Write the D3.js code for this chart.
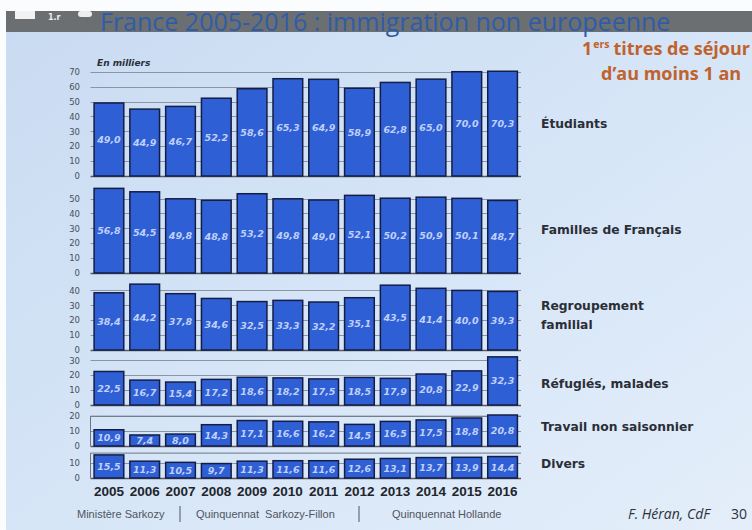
<!DOCTYPE html>
<html><head><meta charset="utf-8">
<script src="https://cdn.jsdelivr.net/npm/d3@7/dist/d3.min.js"></script>
<style>html,body{margin:0;padding:0;overflow:hidden;background:#fff}</style>
</head><body>
<script>
// ---- data ----
const years = ["2005","2006","2007","2008","2009","2010","2011","2012","2013","2014","2015","2016"];
const seriesNames = ["Étudiants","Familles de Français","Regroupement familial","Réfugiés, malades","Travail non saisonnier","Divers"];
const etudiants   = [49.0,44.9,46.7,52.2,58.6,65.3,64.9,58.9,62.8,65.0,70.0,70.3];
const familles    = [56.8,54.5,49.8,48.8,53.2,49.8,49.0,52.1,50.2,50.9,50.1,48.7];
const regroupement= [38.4,44.2,37.8,34.6,32.5,33.3,32.2,35.1,43.5,41.4,40.0,39.3];
const refugies    = [22.5,16.7,15.4,17.2,18.6,18.2,17.5,18.5,17.9,20.8,22.9,32.3];
const travail     = [10.9,7.4,8.0,14.3,17.1,16.6,16.2,14.5,16.5,17.5,18.8,20.8];
const divers      = [15.5,11.3,10.5,9.7,11.3,11.6,11.6,12.6,13.1,13.7,13.9,14.4];
const seriesValues = [etudiants,familles,regroupement,refugies,travail,divers];
const tickMax = [70,50,40,30,20,10];
const periods = ["Ministère Sarkozy","Quinquennat  Sarkozy-Fillon","Quinquennat Hollande"];

// ---- layout ----
const W=752,H=530;
const baselines=[176,273,350,405,446,478];
const pxPerUnit=1.49;
const labelY=[[124],[230],[306,325],[384],[427],[464]];
const framed=[false,false,false,false,true,true];
const frameTop=[0,0,0,0,20,16.7];

const svg=d3.select("body").append("svg").attr("width",W).attr("height",H)
  .style("font-family","'DejaVu Sans',sans-serif");
const defs=svg.append("defs");
const g=defs.append("linearGradient").attr("id","bg").attr("x1","0").attr("y1","0").attr("x2","1").attr("y2","1");
g.append("stop").attr("offset","0").attr("stop-color","#c9dbf2");
g.append("stop").attr("offset","0.55").attr("stop-color","#d7e6f7");
g.append("stop").attr("offset","1").attr("stop-color","#e4eefa");
svg.append("rect").attr("width",W).attr("height",H).attr("fill","#fbfcfd");
svg.append("rect").attr("x",6).attr("y",11).attr("width",W-6).attr("height",H-11).attr("fill","url(#bg)");
// top dark band (photo of screen)
svg.append("rect").attr("x",6).attr("y",11).attr("width",W-6).attr("height",21).attr("fill","#6b6f71");
svg.append("rect").attr("x",15).attr("y",11).attr("width",20).attr("height",8).attr("fill","#f2f2f2");
svg.append("text").attr("x",48).attr("y",20).attr("font-size",8).attr("font-weight","bold").attr("fill","#eee").text("1.r");
svg.append("rect").attr("x",78).attr("y",11).attr("width",14).attr("height",6).attr("rx",3).attr("fill","#eee");

// title
svg.append("text").attr("x",100).attr("y",31).attr("font-family","'Open Sans',sans-serif")
  .attr("font-size",25).attr("fill","#2f5ca8").text("France 2005-2016 : immigration non europeenne");
const orange="#c0622c";
const ox=582, oy=55;
const t1=svg.append("text").attr("x",ox).attr("y",oy).attr("font-family","'Open Sans',sans-serif")
  .attr("font-size",18).attr("font-weight","bold").attr("fill",orange).text("1");
let cx=ox+t1.node().getComputedTextLength()+1;
const t2=svg.append("text").attr("x",cx).attr("y",oy-7).attr("font-family","'Open Sans',sans-serif")
  .attr("font-size",10.5).attr("font-weight","bold").attr("fill",orange).text("ers");
cx+=t2.node().getComputedTextLength()+4;
svg.append("text").attr("x",cx).attr("y",oy).attr("font-family","'Open Sans',sans-serif")
  .attr("font-size",18).attr("font-weight","bold").attr("fill",orange).text("titres de séjour");
svg.append("text").attr("x",601).attr("y",80).attr("font-family","'Open Sans',sans-serif")
  .attr("font-size",18).attr("font-weight","bold").attr("fill",orange).text("d’au moins 1 an");

svg.append("text").attr("x",97).attr("y",66).attr("font-size",9).attr("font-weight","bold")
  .attr("font-style","italic").attr("fill","#2a2f3a").text("En milliers");

const x=d3.scaleBand().domain(years).range([90.5,521]).paddingInner(0.17).paddingOuter(0.1);

seriesValues.forEach((vals,i)=>{
  const base=baselines[i];
  const y=d3.scaleLinear().domain([0,tickMax[i]]).range([base,base-tickMax[i]*pxPerUnit]);
  const p=svg.append("g");
  const ticks=d3.range(0,tickMax[i]+1,10);
  p.selectAll("line.grid").data(ticks).join("line")
    .attr("x1",90.5).attr("x2",521).attr("y1",d=>Math.round(y(d))+0.5).attr("y2",d=>Math.round(y(d))+0.5)
    .attr("stroke",d=>d===0?"#555a66":"#8c95a6").attr("stroke-width",d=>d===0?1.6:1);
  if(framed[i]){
    const ty=y(frameTop[i]);
    p.append("path").attr("d",`M90.5,${base}V${ty}H521`).attr("fill","none").attr("stroke","#6d7585").attr("stroke-width",1);
  }
  const ax=d3.axisLeft(y).tickValues(ticks).tickSize(0).tickPadding(0).tickFormat(d3.format("d"));
  const axg=p.append("g").attr("transform","translate(80,0)").call(ax);
  axg.select(".domain").remove();
  axg.selectAll("text").attr("font-size",8.5).attr("fill","#4a4f58").attr("font-family","'DejaVu Sans',sans-serif");
  p.selectAll("rect.bar").data(vals).join("rect")
    .attr("x",(d,j)=>x(years[j])).attr("width",x.bandwidth())
    .attr("y",d=>y(d)).attr("height",d=>base-y(d))
    .attr("fill","#2f5fd4").attr("stroke","#141d45").attr("stroke-width",1.5);
  p.selectAll("text.val").data(vals).join("text")
    .attr("x",(d,j)=>x(years[j])+x.bandwidth()/2).attr("y",d=>(y(d)+base)/2)
    .attr("text-anchor","middle").attr("dominant-baseline","central")
    .attr("font-size",9.5).attr("font-weight","bold").attr("font-style","italic")
    .attr("fill","#bfd0fb").text(d=>d3.format(".1f")(d).replace(".",","));
  const words = seriesNames[i]==="Regroupement familial"?["Regroupement","familial"]:[seriesNames[i]];
  words.forEach((w,k)=>{
    svg.append("text").attr("x",541).attr("y",labelY[i][k]).attr("dominant-baseline","central")
      .attr("font-size",12.3).attr("font-weight","bold").attr("fill","#2b2e36").text(w);
  });
});

// year axis
const xa=svg.append("g").attr("transform","translate(0,486)").call(d3.axisBottom(x).tickSize(0).tickPadding(0));
xa.select(".domain").remove();
xa.selectAll("text").attr("font-family","'Liberation Sans',Arial,sans-serif").attr("font-size",13.5)
  .attr("font-weight","bold").attr("fill","#22252c").attr("dy","0.71em");

// periods
svg.append("text").attr("x",77).attr("y",518).attr("font-family","'Liberation Sans',Arial,sans-serif").attr("font-size",11).attr("fill","#50555e").text(periods[0]);
svg.append("text").attr("x",196).attr("y",518).attr("font-family","'Liberation Sans',Arial,sans-serif").attr("font-size",11).attr("fill","#50555e").attr("xml:space","preserve").text(periods[1]);
svg.append("text").attr("x",392).attr("y",518).attr("font-family","'Liberation Sans',Arial,sans-serif").attr("font-size",11).attr("fill","#50555e").text(periods[2]);
[180,359].forEach(sx=>svg.append("line").attr("x1",sx).attr("x2",sx).attr("y1",506).attr("y2",522).attr("stroke","#50555e").attr("stroke-width",1));

// credit
svg.append("text").attr("x",628).attr("y",519).attr("font-family","'Open Sans',sans-serif").attr("font-size",14)
  .attr("font-style","italic").attr("fill","#2e3138").text("F. Héran, CdF");
svg.append("text").attr("x",731).attr("y",519).attr("font-family","'Open Sans',sans-serif").attr("font-size",14)
  .attr("fill","#2e3138").text("30");
</script>
</body></html>
